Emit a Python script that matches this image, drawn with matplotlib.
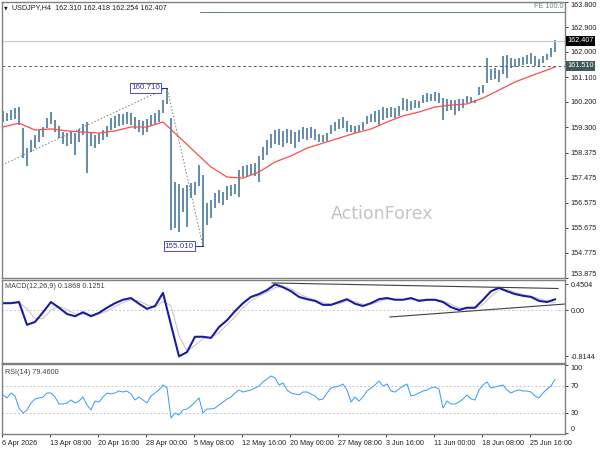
import matplotlib
matplotlib.use("Agg")
import matplotlib.pyplot as plt

plt.rcParams['font.family'] = ['Liberation Sans', 'DejaVu Sans']

# ---- data (USDJPY H4) ----
highs = [159.88, 159.80, 159.91, 159.98, 160.02, 159.26, 158.54, 158.83, 159.01, 159.19,
         159.30, 159.62, 159.84, 159.55, 159.34, 159.12, 159.08, 159.16, 159.08, 159.23,
         159.41, 159.48, 159.12, 159.01, 159.08, 159.19, 159.34, 159.62, 159.70, 159.77,
         159.77, 159.84, 159.80, 159.66, 159.55, 159.52, 159.59, 159.73, 159.80, 159.91,
         160.27, 160.71, 159.62, 157.32, 157.25, 157.10, 157.21, 157.28, 157.32, 157.93,
         157.57, 156.56, 156.67, 156.92, 157.03, 156.96, 157.18, 157.21, 157.25, 157.75,
         157.90, 157.93, 157.97, 158.00, 158.26, 158.58, 158.83, 159.05, 159.19, 159.23,
         159.16, 159.23, 159.19, 159.12, 159.19, 159.30, 159.26, 159.30, 159.23, 159.05,
         159.01, 159.08, 159.37, 159.48, 159.59, 159.66, 159.52, 159.37, 159.34, 159.37,
         159.48, 159.70, 159.77, 159.88, 159.91, 160.02, 159.98, 160.02, 159.98, 160.06,
         160.34, 160.31, 160.24, 160.27, 160.24, 160.45, 160.52, 160.49, 160.56, 160.52,
         160.34, 160.31, 160.27, 160.27, 160.31, 160.31, 160.42, 160.38, 160.27, 160.74,
         160.81, 161.78, 161.39, 161.42, 161.35, 161.86, 161.89, 161.78, 161.75, 161.78,
         161.82, 161.89, 161.96, 161.86, 161.75, 161.86, 161.93, 162.14, 162.42]
lows = [159.48, 159.52, 159.55, 159.59, 159.37, 158.18, 157.90, 158.40, 158.54, 158.76,
        158.94, 159.26, 159.41, 159.12, 158.90, 158.69, 158.62, 158.69, 158.29, 158.76,
        159.01, 157.64, 158.62, 158.54, 158.69, 158.83, 158.94, 159.19, 159.26, 159.34,
        159.37, 159.41, 159.37, 159.23, 159.12, 159.01, 159.12, 159.34, 159.41, 159.48,
        159.80, 160.13, 155.59, 155.66, 155.52, 156.24, 155.70, 156.74, 156.85, 157.18,
        155.01, 155.77, 156.02, 156.38, 156.56, 156.49, 156.67, 156.82, 156.89, 156.78,
        157.50, 157.54, 157.57, 157.54, 157.32, 158.11, 158.29, 158.54, 158.69, 158.65,
        158.58, 158.72, 158.69, 158.54, 158.76, 158.87, 158.83, 158.90, 158.83, 158.76,
        158.76, 158.80, 159.05, 159.16, 159.23, 159.26, 159.12, 159.12, 159.08, 159.12,
        159.19, 159.41, 159.48, 159.48, 159.34, 159.55, 159.62, 159.66, 159.62, 159.70,
        159.91, 159.88, 159.91, 159.98, 159.98, 160.16, 160.20, 160.24, 160.24, 160.16,
        159.55, 159.88, 159.91, 159.73, 159.88, 159.98, 160.16, 160.16, 160.16, 160.45,
        160.52, 160.88, 160.99, 161.03, 160.92, 161.21, 161.06, 161.42, 161.46, 161.50,
        161.53, 161.57, 161.57, 161.50, 161.46, 161.60, 161.71, 161.82, 162.00]

ma_idx = list(range(0, 137, 4)) + [138]
ma_vals = [159.30, 159.44, 159.19, 159.23, 159.16, 159.12, 159.08, 159.16, 159.30, 159.30,
           159.48, 158.94, 158.40, 157.86, 157.50, 157.46, 157.68, 158.04, 158.26, 158.54,
           158.72, 158.90, 159.08, 159.23, 159.48, 159.70, 159.84, 160.02, 160.09, 160.13,
           160.34, 160.63, 160.92, 161.14, 161.35, 161.46]

macd_idx = list(range(0, 139, 2))
macd_main = [0.12, 0.12, 0.14, -0.26, -0.21, -0.04, 0.14, 0.04, -0.07, -0.11,
             -0.04, -0.11, -0.05, 0.04, 0.12, 0.18, 0.21, 0.11, 0.02, 0.07,
             0.30, -0.26, -0.814, -0.74, -0.47, -0.47, -0.49, -0.30, -0.18, -0.02,
             0.12, 0.23, 0.28, 0.35, 0.4504, 0.40, 0.33, 0.23, 0.19, 0.16,
             0.09, 0.09, 0.14, 0.19, 0.11, 0.07, 0.12, 0.19, 0.21, 0.18,
             0.18, 0.21, 0.16, 0.18, 0.18, 0.14, 0.05, 0.00, 0.04, 0.04,
             0.18, 0.33, 0.39, 0.33, 0.28, 0.25, 0.23, 0.16, 0.14, 0.1868]
macd_signal = [0.12, 0.12, 0.13, 0.02, -0.15, -0.15, 0.00, 0.06, 0.01, -0.07,
               -0.07, -0.08, -0.07, -0.02, 0.06, 0.13, 0.18, 0.16, 0.09, 0.05,
               0.15, 0.08, -0.45, -0.72, -0.62, -0.50, -0.48, -0.40, -0.26, -0.12,
               0.04, 0.16, 0.25, 0.31, 0.39, 0.42, 0.37, 0.29, 0.22, 0.18,
               0.13, 0.10, 0.11, 0.16, 0.15, 0.10, 0.10, 0.15, 0.19, 0.19,
               0.18, 0.19, 0.18, 0.17, 0.18, 0.16, 0.10, 0.04, 0.02, 0.03,
               0.10, 0.24, 0.35, 0.36, 0.31, 0.27, 0.24, 0.20, 0.16, 0.1251]

rsi = [56.3, 51.9, 59.3, 54.8, 37.0, 29.6, 34.1, 44.4, 50.4, 51.9,
       53.3, 59.3, 59.3, 53.3, 43.0, 43.0, 44.4, 48.9, 44.4, 47.4,
       53.3, 41.5, 34.1, 47.4, 45.9, 53.3, 59.3, 57.8, 59.3, 62.2,
       60.7, 62.2, 57.8, 48.9, 53.3, 48.9, 44.4, 54.8, 59.3, 63.7,
       71.1, 66.7, 22.2, 29.6, 26.7, 34.1, 35.6, 40.0, 45.9, 51.9,
       29.6, 35.6, 35.6, 37.0, 41.5, 45.9, 50.4, 53.3, 59.3, 63.7,
       60.7, 62.2, 63.7, 66.7, 69.6, 75.6, 80.0, 84.4, 81.5, 71.1,
       74.1, 63.7, 59.3, 57.8, 56.3, 60.7, 60.7, 57.8, 54.8, 48.9,
       50.4, 59.3, 66.7, 68.1, 69.6, 72.6, 63.7, 45.9, 53.3, 47.4,
       53.3, 62.2, 66.7, 71.1, 77.0, 69.6, 72.6, 62.2, 60.7, 65.2,
       69.6, 72.6, 54.8, 56.3, 59.3, 62.2, 63.7, 66.7, 68.1, 65.2,
       37.0, 47.4, 43.0, 43.0, 45.9, 50.4, 56.3, 50.4, 48.9, 63.7,
       71.1, 75.6, 66.7, 68.1, 69.6, 71.1, 63.7, 59.3, 62.2, 63.7,
       62.2, 62.2, 60.7, 54.8, 51.9, 59.3, 65.2, 69.6, 79.46]

price_ticks = [163.800, 162.900, 162.000, 161.100, 160.200, 159.300,
               158.375, 157.475, 156.575, 155.675, 154.775, 153.875]
time_tick_idx = [-0.25 + 12 * k for k in range(12)]
time_labels = ['6 Apr 2026', '13 Apr 08:00', '20 Apr 16:00', '28 Apr 00:00',
               '5 May 08:00', '12 May 16:00', '20 May 00:00', '27 May 08:00',
               '3 Jun 16:00', '11 Jun 00:00', '18 Jun 08:00', '25 Jun 16:00']

ohlc_last = (162.310, 162.418, 162.254, 162.407)
level_line = 161.510
fe_level = 163.44
fe_idx = [-0.25, 41, 50]
fe_price = [157.93, 160.71, 155.01]
macd_upper = ([67.25, 138.75], [0.475, 0.378])
macd_lower = ([96.75, 140.5], [-0.123, 0.105])

# ---- styling ----
bar_col = '#5784a2'
frame_col = '#808080'
txt_col = '#202020'
fs = 5.2
xlo, xhi = -0.25, 140.5
idx = list(range(len(highs)))

fig = plt.figure(figsize=(6, 4.5), dpi=100)
W, H = 600.0, 450.0
ax1 = fig.add_axes([2 / W, 1 - 278 / H, 563 / W, 276 / H])
ax2 = fig.add_axes([2 / W, 1 - 363 / H, 563 / W, 83 / H])
ax3 = fig.add_axes([2 / W, 1 - 434 / H, 563 / W, 70 / H])

for ax in (ax1, ax2, ax3):
    ax.set_xlim(xlo, xhi)
    for sp in ax.spines.values():
        sp.set_color(frame_col)
        sp.set_linewidth(1.0)
    ax.yaxis.tick_right()
    ax.tick_params(axis='y', direction='out', length=2.5, width=0.6,
                   pad=1.5, labelsize=fs, colors=txt_col)
    ax.tick_params(axis='x', bottom=False, labelbottom=False)

# main price panel
ax1.set_ylim(153.864, 163.80)
ax1.vlines(idx, lows, highs, color=bar_col, lw=1.3)
ax1.plot(ma_idx, ma_vals, color='#ff4b4b', lw=0.9)
ax1.axhline(ohlc_last[3], color='#c8c8c8', lw=0.8)
ax1.axhline(level_line, color='#4f6666', lw=0.7, dashes=(3, 2.5))
ax1.plot([49.25, xhi], [fe_level, fe_level], color='#5f7f80', lw=0.7)
ax1.text(140.2, 163.63, 'FE 100.0', ha='right', va='center', fontsize=fs, color='#6a8585')
ax1.plot(fe_idx, fe_price, color='#6f8080', lw=0.7, dashes=(1.5, 2))
ax1.plot([39.3, 41], [160.71, 160.71], color='#303060', lw=0.7)
ax1.plot([47.8, 50], [155.01, 155.01], color='#303060', lw=0.7)
ax1.text(39.2, 160.71, '160.710', ha='right', va='center', fontsize=fs + 0.6, color='#3535a5',
         bbox=dict(boxstyle='square,pad=0.15', fc='white', ec='#4a4ac8', lw=0.7))
ax1.text(47.7, 155.01, '155.010', ha='right', va='center', fontsize=fs + 0.6, color='#3535a5',
         bbox=dict(boxstyle='square,pad=0.15', fc='white', ec='#4a4ac8', lw=0.7))
ax1.text(0.676, 0.231, 'ActionForex', transform=ax1.transAxes, ha='center', va='center',
         fontsize=12.5, color='#c4c4c4', family='DejaVu Sans')
ax1.set_yticks(price_ticks)
ax1.set_yticklabels(['%.3f' % v for v in price_ticks])
tl = ax1.get_yticklabels()
tl[0].set_va('top')
tl[-1].set_va('bottom')
ytr = ax1.get_yaxis_transform()
ax1.text(1.004, ohlc_last[3], '%.3f' % ohlc_last[3], transform=ytr, ha='left', va='center',
         fontsize=fs, color='white', bbox=dict(boxstyle='square,pad=0.2', fc='black', ec='none'))
ax1.text(1.004, level_line, '%.3f' % level_line, transform=ytr, ha='left', va='center',
         fontsize=fs, color='white', bbox=dict(boxstyle='square,pad=0.2', fc='#3f5858', ec='none'))
fig.text(4 / W, 1 - 8 / H, '\u25bc', fontsize=3.5, va='center', ha='left', color=txt_col,
         family='DejaVu Sans')
fig.text(12 / W, 1 - 8 / H, 'USDJPY,H4  %.3f %.3f %.3f %.3f' % ohlc_last,
         fontsize=fs, va='center', ha='left', color=txt_col)

# MACD panel
ax2.set_ylim(-0.931, 0.527)
ax2.axhline(0, color='#c8c8c8', lw=0.7, dashes=(2, 2))
ax2.plot(macd_idx, macd_signal, color='#c8c8c8', lw=0.8)
ax2.plot(macd_idx, macd_main, color='#1c1ca0', lw=1.5)
ax2.plot(*macd_upper, color='#404040', lw=0.8)
ax2.plot(*macd_lower, color='#404040', lw=0.8)
ax2.set_yticks([0.4504, 0.0, -0.8144])
ax2.set_yticklabels(['0.4504', '0.00', '-0.8144'])
ax2.text(0.006, 0.92, 'MACD(12,26,9) %.4f %.4f' % (macd_main[-1], macd_signal[-1]),
         transform=ax2.transAxes, fontsize=fs, va='center', ha='left', color='#404040')

# RSI panel
ax3.set_ylim(-1.48, 102.2)
ax3.axhline(70, color='#c8c8c8', lw=0.7, dashes=(2, 2))
ax3.axhline(30, color='#c8c8c8', lw=0.7, dashes=(2, 2))
ax3.plot(idx, rsi, color='#3399ff', lw=0.7)
ax3.set_yticks([100, 70, 30, 0])
ax3.set_yticklabels(['100', '70', '30', '0'])
rl = ax3.get_yticklabels()
rl[0].set_va('top')
rl[-1].set_va('bottom')
ax3.text(0.006, 0.885, 'RSI(14) %.4f' % rsi[-1], transform=ax3.transAxes,
         fontsize=fs, va='center', ha='left', color='#404040')
ax3.set_xticks(time_tick_idx)
ax3.set_xticklabels(time_labels)
ax3.tick_params(axis='x', bottom=True, labelbottom=True, direction='out', length=2.5,
                width=0.6, pad=1.5, labelsize=fs, colors=txt_col)
for t in ax3.get_xticklabels():
    t.set_ha('left')

fig.savefig('out.png', dpi=100)
